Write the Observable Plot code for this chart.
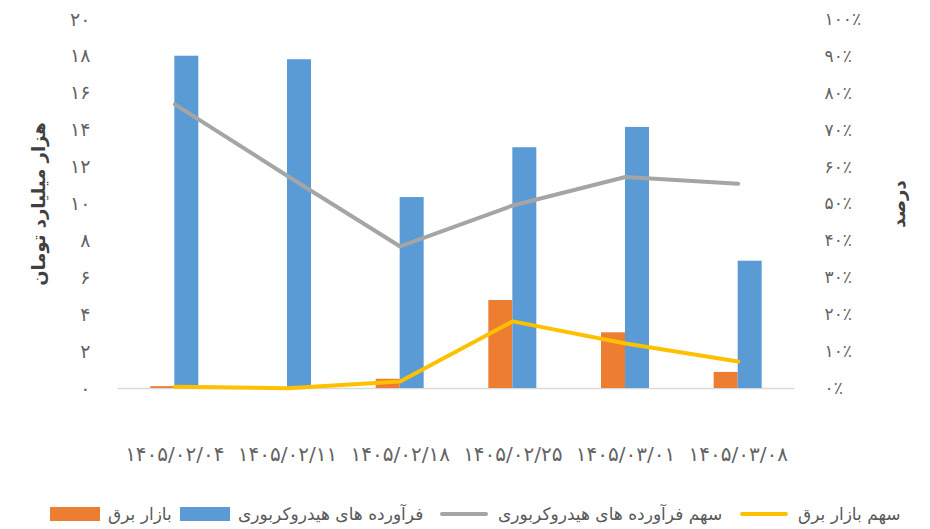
<!DOCTYPE html>
<html>
<head>
<meta charset="utf-8">
<script src="https://cdn.jsdelivr.net/npm/d3@7"></script>
<script src="https://cdn.jsdelivr.net/npm/@observablehq/plot@0.6"></script>
<style>
  html, body { margin: 0; padding: 0; background: #fff; }
  body { position: relative; width: 930px; height: 529px; overflow: hidden; font-family: "DejaVu Sans", sans-serif; }
  #chart svg { display: block; }
  #legend { position: relative; width: 930px; height: 34px; color: #595959; font-size: 17px; }
  .item { position: absolute; top: 9px; display: flex; align-items: center; white-space: nowrap; }
  .rect { width: 50px; height: 14px; margin-right: 8px; }
  .ln { width: 48px; height: 4px; border-radius: 2px; margin-right: 10px; }
  .title { position: absolute; transform: translate(-50%, -50%) rotate(-90deg); white-space: nowrap;
           font-weight: bold; font-size: 18px; color: #404040; }
  #chart svg g[aria-label="x-axis tick label"] text { letter-spacing: 1px; }
  #chart svg g.right-ticks text { letter-spacing: 3px; }
</style>
</head>
<body>
<div id="chart"></div>
<div id="legend"></div>
<script>
// Data
const dates = ["1405/02/04", "1405/02/11", "1405/02/18", "1405/02/25", "1405/03/01", "1405/03/08"];
const electricity = [0.1, 0.03, 0.5, 4.77, 3.02, 0.87];          // بازار برق (هزار میلیارد تومان)
const hydrocarbon = [18.01, 17.82, 10.35, 13.05, 14.15, 6.9];    // فرآورده های هیدروکربوری
const hydroShare = [77.0, 57.6, 38.5, 49.6, 57.3, 55.5];         // سهم فرآورده های هیدروکربوری (%)
const elecShare = [0.5, 0.1, 1.9, 18.2, 12.2, 7.3];              // سهم بازار برق (%)
const leftTicks = [0, 2, 4, 6, 8, 10, 12, 14, 16, 18, 20];
const rightTicks = [0, 10, 20, 30, 40, 50, 60, 70, 80, 90, 100];

const seriesNames = ["بازار برق", "فرآورده های هیدروکربوری", "سهم فرآورده های هیدروکربوری", "سهم بازار برق"];
const leftTitle = "هزار میلیارد تومان";
const rightTitle = "درصد";

const fa = s => String(s).replace(/\d/g, d => "۰۱۲۳۴۵۶۷۸۹"[d]);
const rows = dates.map((d, i) => ({date: d, elec: electricity[i], hydro: hydrocarbon[i], hShare: hydroShare[i], eShare: elecShare[i]}));

const W = 930, H = 495, mL = 118, mR = 136, mT = 19, mB = 107;
const bw = (W - mL - mR) / dates.length;
const barW = 24;
const pctToLeft = p => p * 20 / 100;

const plot = Plot.plot({
  width: W, height: H,
  marginLeft: mL, marginRight: mR, marginTop: mT, marginBottom: mB,
  style: {fontFamily: "DejaVu Sans, sans-serif", color: "#636363", background: "#fff", overflow: "visible"},
  x: {type: "band", domain: dates, padding: 0, round: false},
  y: {domain: [0, 20], nice: false},
  marks: [
    Plot.ruleY([0], {stroke: "#d9d9d9", strokeWidth: 1.5}),
    Plot.barY(rows, {x: "date", y: "elec", fill: "#ED7D31", insetLeft: bw / 2 - barW, insetRight: bw / 2}),
    Plot.barY(rows, {x: "date", y: "hydro", fill: "#5B9BD5", insetLeft: bw / 2, insetRight: bw / 2 - barW}),
    Plot.line(rows, {x: "date", y: d => pctToLeft(d.hShare), stroke: "#A5A5A5", strokeWidth: 4, strokeLinecap: "round", strokeLinejoin: "round"}),
    Plot.line(rows, {x: "date", y: d => pctToLeft(d.eShare), stroke: "#FFC000", strokeWidth: 4, strokeLinecap: "round", strokeLinejoin: "round"}),
    Plot.axisX({tickSize: 0, tickPadding: 58, fontSize: 20, tickFormat: fa, label: null}),
    Plot.axisY({anchor: "left", ticks: leftTicks, tickSize: 0, tickPadding: 28, fontSize: 19, tickFormat: fa, label: null}),
    Plot.axisY({anchor: "right", ticks: rightTicks.map(pctToLeft), tickSize: 0, tickPadding: 30, fontSize: 17,
      tickFormat: (d, i) => fa(rightTicks[i]) + "٪", label: null})
  ]
});
document.getElementById("chart").appendChild(plot);
// mark the right axis tick labels group for letter spacing
d3.select(plot).selectAll('g[aria-label="y-axis tick label"]').each(function() {
  if (this.getAttribute("text-anchor") === "start") this.classList.add("right-ticks");
});

// Axis titles
for (const [txt, x] of [[leftTitle, 38], [rightTitle, 898]]) {
  const t = document.createElement("div");
  t.className = "title";
  t.dir = "rtl";
  t.textContent = txt;
  t.style.left = x + "px";
  t.style.top = (mT + (H - mT - mB) / 2) + "px";
  document.body.appendChild(t);
}

// Legend
const legend = document.getElementById("legend");
const items = [
  {name: seriesNames[0], kind: "rect", color: "#ED7D31", left: 50},
  {name: seriesNames[1], kind: "rect", color: "#5B9BD5", left: 180},
  {name: seriesNames[2], kind: "ln", color: "#A5A5A5", left: 440},
  {name: seriesNames[3], kind: "ln", color: "#FFC000", left: 740}
];
for (const it of items) {
  const el = document.createElement("div");
  el.className = "item";
  el.style.left = it.left + "px";
  const sw = document.createElement("span");
  sw.className = it.kind;
  sw.style.background = it.color;
  const tx = document.createElement("span");
  tx.textContent = it.name;
  tx.dir = "rtl";
  el.appendChild(sw); el.appendChild(tx);
  legend.appendChild(el);
}
</script>
</body>
</html>
